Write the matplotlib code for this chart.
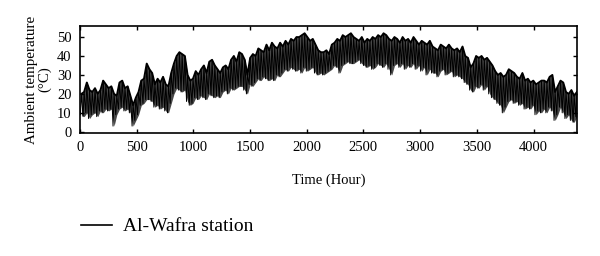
import numpy as np
import matplotlib
matplotlib.use("Agg")
import matplotlib.pyplot as plt

# daily maximum / minimum ambient temperature (deg C), day 0..182
daily_max = [20, 21, 26, 22, 21, 23, 20, 22, 27, 25,
             23, 24, 20, 19, 26, 27, 23, 24, 19, 14,
             18, 21, 27, 28, 36, 33, 31, 25, 28, 26,
             29, 25, 24, 31, 36, 40, 42, 41, 40, 30,
             27, 28, 32, 30, 33, 35, 31, 37, 38, 35,
             33, 31, 34, 35, 33, 38, 40, 37, 42, 41,
             38, 30, 39, 41, 40, 44, 43, 42, 46, 43,
             47, 45, 44, 47, 45, 48, 46, 49, 48, 50,
             50, 51, 52, 50, 48, 49, 46, 43, 42, 42,
             43, 41, 46, 47, 49, 48, 51, 50, 51, 52,
             50, 49, 48, 50, 47, 49, 48, 50, 49, 51,
             50, 52, 51, 49, 48, 50, 49, 47, 50, 48,
             49, 47, 50, 48, 46, 48, 47, 46, 48, 45,
             44, 43, 46, 45, 44, 46, 44, 43, 44, 42,
             45, 40, 39, 34, 36, 40, 39, 40, 38, 39,
             37, 35, 32, 30, 31, 29, 30, 33, 32, 31,
             29, 28, 31, 27, 28, 26, 27, 25, 26, 27,
             27, 26, 29, 30, 21, 24, 27, 26, 21, 20, 22, 19, 21]
daily_min = [9, 8, 10, 7, 9, 10, 8, 11, 10, 12,
             11, 12, 3, 9, 12, 13, 11, 12, 10, 3,
             6, 9, 14, 15, 17, 17, 16, 13, 14, 12,
             13, 11, 10, 15, 20, 23, 22, 21, 22, 16,
             14, 15, 18, 17, 19, 18, 17, 20, 19, 18,
             19, 18, 21, 22, 20, 23, 22, 23, 24, 24,
             22, 20, 25, 24, 26, 28, 27, 29, 28, 27,
             28, 27, 30, 29, 31, 33, 32, 34, 33, 32,
             33, 31, 34, 32, 33, 34, 31, 30, 31, 30,
             31, 32, 33, 35, 34, 31, 35, 36, 37, 36,
             36, 37, 38, 36, 35, 34, 35, 33, 34, 36,
             35, 34, 36, 33, 30, 35, 36, 34, 36, 33,
             35, 34, 36, 33, 35, 32, 34, 30, 33, 31,
             31, 29, 32, 33, 30, 31, 32, 29, 30, 29,
             28, 26, 25, 22, 21, 24, 23, 25, 22, 24,
             20, 18, 17, 15, 14, 10, 13, 16, 17, 15,
             16, 14, 15, 12, 13, 12, 14, 9, 11, 10,
             12, 10, 13, 11, 6, 9, 13, 10, 7, 9, 6, 5, 8]

x_ticks = [0, 500, 1000, 1500, 2000, 2500, 3000, 3500, 4000]
y_ticks = [0, 10, 20, 30, 40, 50]

plt.rcParams['font.family'] = ['Liberation Serif', 'DejaVu Serif']

# hourly series: minimum in the early morning, maximum in the afternoon
days = np.arange(len(daily_max))
t_min = days * 24 + 5
t_max = days * 24 + 14
hours = np.column_stack([t_min, t_max]).ravel()
temps = np.column_stack([daily_min, daily_max]).ravel()

fig = plt.figure(figsize=(6, 2.56), dpi=100)
ax = fig.add_axes([0.133, 0.480, 0.829, 0.418])
# daily range shaded grey, hourly trace in black on top
ax.fill_between(t_max, daily_min, daily_max, color='#484848', linewidth=0)
line, = ax.plot(hours, temps, color='black', linewidth=0.7)
ax.plot(t_max, daily_max, color='black', linewidth=1.4)

ax.set_xlim(0, 4385)
ax.set_ylim(-0.7, 55.8)
ax.set_xticks(x_ticks)
ax.set_yticks(y_ticks)
ax.tick_params(direction='in', length=3, width=1, top=True, right=True,
               labelsize=10.5, pad=6)
for s in ax.spines.values():
    s.set_linewidth(1.2)

ax.set_xlabel('Time (Hour)', fontsize=10.5, labelpad=14)
ax.set_ylabel('Ambient temperature\n(°C)', fontsize=10.8, labelpad=4, linespacing=1.0)

fig.legend([line], ['Al-Wafra station'], loc='center left',
           bbox_to_anchor=(0.105, 0.115), frameon=False, fontsize=14,
           handlelength=1.6, handletextpad=0.6)
line_leg = fig.legends[0].get_lines()[0]
line_leg.set_linewidth(1.2)

fig.savefig('out.png', dpi=100)
